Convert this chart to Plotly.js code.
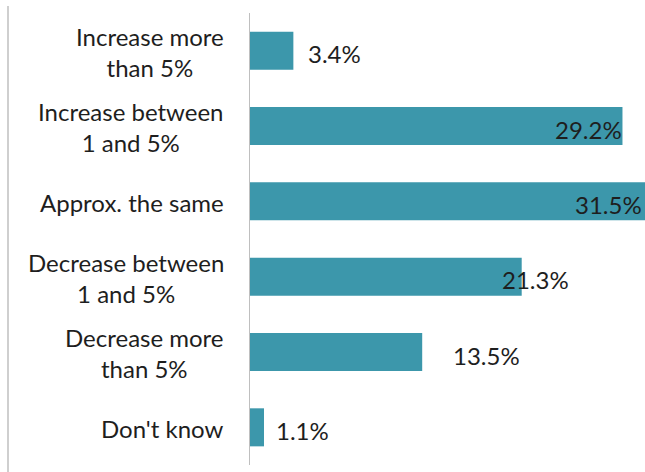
<!DOCTYPE html>
<html>
<head>
<meta charset="utf-8">
<script src="https://cdn.plot.ly/plotly-3.0.1.min.js"></script>
<style>
html, body { margin: 0; padding: 0; overflow: hidden; background: #fff; }
#wrap { position: relative; width: 645px; height: 472px; overflow: hidden; }
#edge { position: absolute; left: 7px; top: 6px; width: 0; height: 466px; border-left: 2px solid #cfcfcf; z-index: 5; }
#chart { position: absolute; left: 0; top: 0; }
</style>
</head>
<body>
<div id="wrap">
<div id="chart"></div>
<div id="edge"></div>
</div>
<script>
// Data
const categories = [
  "Increase more<br>than 5%",
  "Increase between<br>1 and 5%",
  "Approx. the same",
  "Decrease between<br>1 and 5%",
  "Decrease more<br>than 5%",
  "Don't know"
];
const values = [3.4, 29.2, 31.5, 21.3, 13.5, 1.1];
const valueLabels = ["3.4%", "29.2%", "31.5%", "21.3%", "13.5%", "1.1%"];

// Label placement style (pixel offset of label's left edge from bar end)
const labelShift = [13, -69, -79, -22, 29, 10];

const FONT = "Lato, 'Open Sans', sans-serif";
const barColor = "#3c97ab";

const trace = {
  type: "bar",
  orientation: "h",
  x: values,
  y: categories,
  marker: { color: barColor },
  hoverinfo: "none"
};

const annotations = [];
categories.forEach((c, i) => {
  annotations.push({
    xref: "paper", yref: "y",
    x: 0, y: c,
    xanchor: "right", yanchor: "middle",
    xshift: -24, yshift: -1,
    align: "center",
    showarrow: false,
    text: c,
    font: { family: FONT, size: 24, color: "#1e1e1e" }
  });
  annotations.push({
    xref: "x", yref: "y",
    x: values[i], y: c,
    xanchor: "left", yanchor: "middle",
    xshift: labelShift[i], yshift: -3,
    showarrow: false,
    text: valueLabels[i],
    font: { family: FONT, size: 24, color: "#1e1e1e" }
  });
});

const layout = {
  width: 655,
  height: 472,
  margin: { l: 250, r: 0, t: 13, b: 7, pad: 0 },
  paper_bgcolor: "#ffffff",
  plot_bgcolor: "#ffffff",
  showlegend: false,
  bargap: 0.495,
  xaxis: {
    range: [0, 31.75],
    showgrid: false, zeroline: false, showline: false,
    showticklabels: false, ticks: "", fixedrange: true
  },
  yaxis: {
    type: "category",
    autorange: "reversed",
    showgrid: false, zeroline: false,
    showline: true, linecolor: "#bfbfbf", linewidth: 1.5,
    showticklabels: false, ticks: "", fixedrange: true
  },
  annotations: annotations
};

Plotly.newPlot("chart", [trace], layout, { displayModeBar: false, staticPlot: true });
</script>
</body>
</html>
